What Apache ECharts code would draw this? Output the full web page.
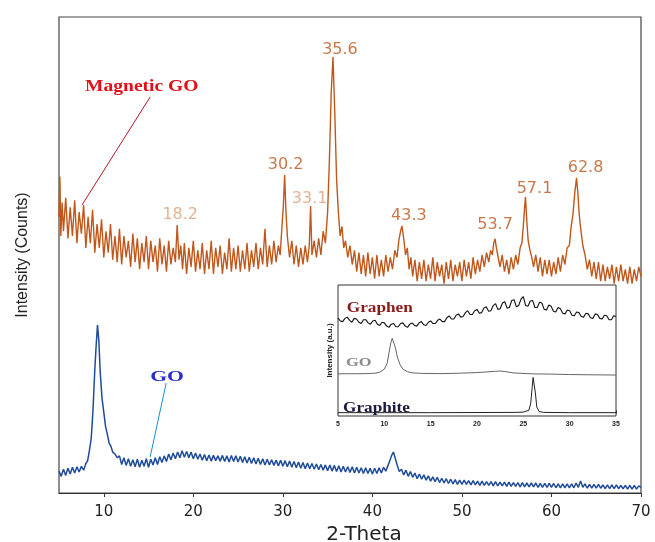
<!DOCTYPE html>
<html><head><meta charset="utf-8">
<script src="https://cdn.jsdelivr.net/npm/echarts@6/dist/echarts.min.js"></script>
<style>html,body{margin:0;padding:0;background:#fff}#c{width:655px;height:542px}</style>
</head><body><div id="c"></div>
<script>
// ---------------- DATA ----------------
const magneticGO = [
 [5.0,58],[5.1,66.5],[5.2,54],[5.35,61],[5.5,55],[5.75,62],[6.0,53.5],[6.25,60],[6.5,54],[6.75,61.5],
 [7.0,52.5],[7.25,59],[7.5,54.5],[7.75,60.5],[8.0,51.5],[8.25,58],[8.5,52.5],[8.75,59.5],[9.0,50.5],[9.25,56.5],
 [9.5,51.5],[9.75,57.5],[10.0,49.5],[10.25,55],[10.5,50.5],[10.75,56.5],[11.0,49],[11.25,54],[11.5,48.5],[11.75,55.5],
 [12.0,48],[12.25,54],[12.5,49.5],[12.75,53],[13.0,47.5],[13.25,54.5],[13.5,48.5],[13.75,53.5],[14.0,47],[14.25,52.5],
 [14.5,48.5],[14.75,54],[15.0,47],[15.25,53],[15.5,48.5],[15.75,52],[16.0,46.5],[16.25,53.5],[16.5,48],[16.75,52],
 [17.0,46.5],[17.25,53],[17.5,48],[17.75,51.5],[18.0,48.5],[18.2,56.3],[18.4,49],[18.6,52],[18.8,47],[19.0,52.5],
 [19.25,46],[19.5,51.5],[19.75,47.5],[20.0,53],[20.25,46.5],[20.5,51],[20.75,47],[21.0,52.5],[21.25,46],[21.5,51],
 [21.75,47],[22.0,53],[22.25,46],[22.5,51.5],[22.75,47.5],[23.0,52],[23.25,46],[23.5,50.5],[23.75,47],[24.0,53.5],
 [24.25,46.5],[24.5,51.5],[24.75,47],[25.0,52],[25.25,46.5],[25.5,51],[25.75,47],[26.0,52.5],[26.25,46.5],[26.5,51],
 [26.75,47.5],[27.0,52.5],[27.25,47],[27.5,51.5],[27.75,48],[28.0,55.5],[28.25,47.5],[28.5,52],[28.75,48],[29.0,53],
 [29.25,48.5],[29.5,52],[29.7,50],[29.9,56],[30.05,60],[30.2,66.8],[30.35,59],[30.5,54],[30.75,49.5],[31.0,53],
 [31.25,48],[31.5,52],[31.75,47.5],[32.0,51.5],[32.25,48],[32.5,52],[32.75,48.5],[32.95,52],[33.1,60.3],[33.25,50],
 [33.5,53],[33.75,49.5],[34.0,53.5],[34.25,50],[34.5,55],[34.75,52.5],[35.0,59],[35.2,70],[35.4,84],[35.6,91.6],
 [35.8,80],[36.0,66],[36.2,59],[36.4,54],[36.6,56],[36.8,51.5],[37.0,53],[37.25,49.5],[37.5,52],[37.75,48],
 [38.0,51],[38.25,46.5],[38.5,50.5],[38.75,46],[39.0,50],[39.25,45.5],[39.5,50.5],[39.75,46],[40.0,49.5],[40.25,45],
 [40.5,50],[40.75,45.5],[41.0,49],[41.25,45.5],[41.5,50],[41.75,46.5],[42.0,49.5],[42.25,47],[42.5,51],[42.75,49.5],
 [42.95,53],[43.15,55],[43.3,56.1],[43.5,53.5],[43.7,50],[43.9,51.5],[44.1,47],[44.3,49.5],[44.5,45.5],[44.75,49],
 [45.0,44.5],[45.25,48.5],[45.5,45],[45.75,49],[46.0,44.5],[46.25,48],[46.5,45],[46.75,49.5],[47.0,44.5],[47.25,48.5],
 [47.5,45.5],[47.75,48],[48.0,44],[48.25,48.5],[48.5,45],[48.75,49],[49.0,44.5],[49.25,48],[49.5,45.5],[49.75,48.5],
 [50.0,44.5],[50.25,49],[50.5,45.5],[50.75,48.5],[51.0,45],[51.25,49.5],[51.5,46],[51.75,49],[52.0,46.5],[52.25,50],
 [52.5,47.5],[52.75,50.5],[53.0,48.5],[53.2,51],[53.4,50],[53.55,52.5],[53.7,53.4],[53.85,51.5],[54.0,50],[54.25,47.5],
 [54.5,50],[54.75,46.5],[55.0,49],[55.25,46],[55.5,49.5],[55.75,47],[56.0,50],[56.25,48],[56.5,51.5],[56.7,52.5],
 [56.85,56],[57.0,60],[57.1,62.2],[57.25,57],[57.4,53],[57.6,51],[57.8,49.5],[58.0,47.5],[58.25,50],[58.5,46.5],
 [58.75,49.5],[59.0,45.5],[59.25,49],[59.5,46],[59.75,49],[60.0,45.5],[60.25,48.5],[60.5,46],[60.75,49.5],[61.0,46.5],
 [61.25,50],[61.5,48],[61.75,51.5],[62.0,52],[62.2,56],[62.4,58.5],[62.6,63],[62.8,66.2],[62.95,63],[63.1,58.5],
 [63.3,55],[63.5,52],[63.75,50],[64.0,47],[64.25,49],[64.5,45.5],[64.75,48.5],[65.0,45],[65.25,48.5],[65.5,44.5],
 [65.75,48],[66.0,44.5],[66.25,47.5],[66.5,45],[66.75,48],[67.0,44],[67.25,47.5],[67.5,44.5],[67.75,48],[68.0,44.5],
 [68.25,47],[68.5,44],[68.75,47.5],[69.0,44],[69.25,47],[69.5,44.5],[69.75,47.5],[70.0,45.5]
];
const grapheneOxide = [
 [5.0,4.6],[5.25,3.5],[5.5,5.0],[5.75,3.7],[6.0,5.2],[6.25,4.0],[6.5,5.4],[6.75,4.2],[7.0,5.5],[7.25,4.4],
 [7.5,5.6],[7.75,4.8],[8.0,6.2],[8.2,6.8],[8.4,9.0],[8.6,11.5],[8.8,17.5],[9.0,26],[9.15,31],[9.3,35.3],
 [9.45,32],[9.6,25.5],[9.8,20],[10.0,17],[10.2,14],[10.4,12.3],[10.6,10.5],[10.8,9.8],[11.0,8.6],[11.25,8.2],
 [11.5,7.4],[11.75,7.8],[12.0,6.0],[12.25,7.4],[12.5,5.8],[12.75,7.2],[13.0,5.6],[13.25,7.0],[13.5,5.5],[13.75,7.1],
 [14.0,5.4],[14.25,6.9],[14.5,5.6],[14.75,7.2],[15.0,5.4],[15.25,7.1],[15.5,5.9],[15.75,7.4],[16.0,6.0],[16.25,7.6],
 [16.5,6.4],[16.75,7.8],[17.0,6.6],[17.25,8.2],[17.5,7.0],[17.75,8.4],[18.0,7.2],[18.25,8.6],[18.5,7.4],[18.75,8.9],
 [19.0,7.5],[19.25,8.7],[19.5,7.4],[19.75,8.6],[20.0,7.2],[20.25,8.4],[20.5,7.1],[20.75,8.2],[21.0,6.9],[21.25,8.1],
 [21.5,6.8],[21.75,8.0],[22.0,6.7],[22.25,7.9],[22.5,6.8],[22.75,7.8],[23.0,6.7],[23.25,7.9],[23.5,6.6],[23.75,7.8],
 [24.0,6.5],[24.25,7.9],[24.5,6.6],[24.75,7.8],[25.0,6.5],[25.25,7.7],[25.5,6.4],[25.75,7.6],[26.0,6.3],[26.25,7.5],
 [26.5,6.2],[26.75,7.4],[27.0,6.1],[27.25,7.3],[27.5,6.0],[27.75,7.2],[28.0,5.9],[28.25,7.1],[28.5,5.9],[28.75,7.0],
 [29.0,5.8],[29.25,6.9],[29.5,5.7],[29.75,6.9],[30.0,5.6],[30.25,6.8],[30.5,5.5],[30.75,6.7],[31.0,5.4],[31.25,6.6],
 [31.5,5.3],[31.75,6.5],[32.0,5.2],[32.25,6.4],[32.5,5.1],[32.75,6.3],[33.0,5.1],[33.25,6.2],[33.5,5.0],[33.75,6.1],
 [34.0,4.9],[34.25,6.0],[34.5,4.8],[34.75,5.9],[35.0,4.7],[35.25,5.9],[35.5,4.6],[35.75,5.8],[36.0,4.5],[36.25,5.7],
 [36.5,4.4],[36.75,5.6],[37.0,4.4],[37.25,5.5],[37.5,4.3],[37.75,5.5],[38.0,4.2],[38.25,5.4],[38.5,4.2],[38.75,5.3],
 [39.0,4.1],[39.25,5.3],[39.5,4.1],[39.75,5.2],[40.0,4.0],[40.25,5.2],[40.5,4.1],[40.75,5.3],[41.0,4.2],[41.25,5.4],
 [41.5,4.6],[41.75,5.8],[41.95,6.8],[42.15,7.9],[42.35,8.6],[42.55,7.3],[42.75,6.0],[43.0,4.5],[43.25,5.0],[43.5,3.8],
 [43.75,4.8],[44.0,3.5],[44.25,4.5],[44.5,3.3],[44.75,4.2],[45.0,3.0],[45.25,4.0],[45.5,2.9],[45.75,3.8],[46.0,2.7],
 [46.25,3.6],[46.5,2.5],[46.75,3.4],[47.0,2.4],[47.25,3.3],[47.5,2.2],[47.75,3.1],[48.0,2.1],[48.25,3.0],[48.5,2.0],
 [48.75,2.9],[49.0,1.9],[49.25,2.8],[49.5,1.8],[49.75,2.7],[50.0,1.8],[50.25,2.7],[50.5,1.8],[50.75,2.6],[51.0,1.7],
 [51.25,2.6],[51.5,1.7],[51.75,2.5],[52.0,1.6],[52.25,2.5],[52.5,1.6],[52.75,2.4],[53.0,1.6],[53.25,2.4],[53.5,1.5],
 [53.75,2.4],[54.0,1.5],[54.25,2.3],[54.5,1.5],[54.75,2.3],[55.0,1.4],[55.25,2.3],[55.5,1.4],[55.75,2.2],[56.0,1.4],
 [56.25,2.2],[56.5,1.3],[56.75,2.2],[57.0,1.3],[57.25,2.1],[57.5,1.3],[57.75,2.1],[58.0,1.3],[58.25,2.1],[58.5,1.2],
 [58.75,2.0],[59.0,1.2],[59.25,2.0],[59.5,1.2],[59.75,2.0],[60.0,1.2],[60.25,2.0],[60.5,1.1],[60.75,1.9],[61.0,1.1],
 [61.25,1.9],[61.5,1.1],[61.75,1.9],[62.0,1.1],[62.25,1.9],[62.5,1.1],[62.75,2.1],[63.0,1.2],[63.25,2.5],[63.5,1.2],
 [63.75,1.9],[64.0,1.0],[64.25,1.8],[64.5,1.0],[64.75,1.8],[65.0,1.0],[65.25,1.8],[65.5,1.0],[65.75,1.7],[66.0,0.9],
 [66.25,1.7],[66.5,0.9],[66.75,1.7],[67.0,0.9],[67.25,1.7],[67.5,0.9],[67.75,1.6],[68.0,0.9],[68.25,1.6],[68.5,0.8],
 [68.75,1.6],[69.0,0.8],[69.25,1.6],[69.5,0.8],[69.75,1.5],[70.0,1.2]
];
const peakPositions = [18.2, 30.2, 33.1, 35.6, 43.3, 53.7, 57.1, 62.8];
const peakIntensities = [56.3, 66.8, 60.3, 91.6, 56.1, 53.4, 62.2, 66.2];
const xTickValues = [10, 20, 30, 40, 50, 60, 70];

const insetGraphene = [
 [5.0,74.3],[5.25,72],[5.5,71.5],[5.75,74],[6.0,75],[6.25,72.5],[6.5,71],[6.75,74],[7.0,73.5],[7.25,71],
 [7.5,70],[7.75,73],[8.0,73],[8.25,70.5],[8.5,69.5],[8.75,72],[9.0,72.5],[9.25,69.5],[9.5,68.5],[9.75,71],
 [10.0,70.5],[10.25,68],[10.5,67],[10.75,69.5],[11.0,70],[11.25,67.5],[11.5,67.5],[11.75,70],[12.0,70.5],[12.25,68],
 [12.5,67],[12.75,69.5],[13.0,70.5],[13.25,68.5],[13.5,68],[13.75,70.5],[14.0,71.5],[14.25,69],[14.5,68.5],[14.75,71],
 [15.0,72],[15.25,70],[15.5,70],[15.75,72.5],[16.0,73.5],[16.25,71.5],[16.5,71.5],[16.75,74.5],[17.0,76],[17.25,73.5],
 [17.5,73.5],[17.75,76.5],[18.0,77.5],[18.25,75],[18.5,75.5],[18.75,78.5],[19.0,80],[19.25,77],[19.5,77],[19.75,80],
 [20.0,81],[20.25,78],[20.5,78.5],[20.75,82],[21.0,83],[21.25,79.5],[21.5,80],[21.75,84],[22.0,85.5],[22.25,81],
 [22.5,81.5],[22.75,86],[23.0,87],[23.25,82],[23.5,82.5],[23.75,88],[24.0,88.5],[24.25,83],[24.5,84],[24.75,89],
 [25.0,91],[25.25,84],[25.5,83.5],[25.75,87.5],[26.0,88],[26.25,82.5],[26.5,82.5],[26.75,86.5],[27.0,86],[27.25,81],
 [27.5,80.5],[27.75,84.5],[28.0,83.5],[28.25,79.5],[28.5,79],[28.75,82.5],[29.0,81.5],[29.25,78],[29.5,77.5],[29.75,80.5],
 [30.0,80],[30.25,76.5],[30.5,76],[30.75,79],[31.0,78.5],[31.25,75.5],[31.5,75],[31.75,78],[32.0,77.5],[32.25,74.5],
 [32.5,74],[32.75,77.5],[33.0,77],[33.25,74],[33.5,73.5],[33.75,76.5],[34.0,76],[34.25,73],[34.5,73],[34.75,76],[35.0,75.5]
];
const insetGO = [
 [5,30.8],[6,30.9],[7,30.9],[8,31],[9,31.3],[9.5,32],[10,34.5],[10.3,39],[10.5,47],[10.7,55],[10.85,58.5],
 [11.0,57],[11.2,51],[11.4,44],[11.7,38],[12.0,34.5],[12.5,32.5],[13,31.6],[14,31.2],[16,31],[18,31.3],
 [20,31.8],[22,32.8],[22.5,33],[23,32.6],[24,31.5],[26,30.8],[28,30.6],[30,30.3],[32,30.1],[35,29.9]
];
const insetGraphite = [
 [5,0.6],[10,0.6],[15,0.6],[20,0.7],[24,0.8],[25,1.0],[25.6,2.5],[25.8,8],[25.95,20],[26.05,28],
 [26.15,27],[26.3,16],[26.45,5],[26.7,1.5],[27.2,0.8],[30,0.6],[35,0.6]
];

// ---------------- STYLE / LAYOUT ----------------
const peakLabelColors = ['#d9a07c','#b9561e','#d9a07c','#b9561e','#b9561e','#b9561e','#b9561e','#b9561e'];
const peakLabelOffsets = [[3,0],[1,0],[-1,2.5],[7,3],[7,0],[0,-3.5],[9,1.5],[9,0]];

const chart = echarts.init(document.getElementById('c'), null, {renderer:'canvas'});

const peakData = peakPositions.map((p, i) => ({
  value: [p, peakIntensities[i]],
  label: {color: peakLabelColors[i], offset: peakLabelOffsets[i]}
}));

const option = {
  animation: false,
  backgroundColor: '#fff',
  grid: [
    {left: 59, right: 14, top: 17, bottom: 49, show: true, borderColor: '#444', borderWidth: 1.2,
     containLabel: false, outerBoundsMode: 'none'},
    {left: 338, right: 39, top: 285, bottom: 126, show: true, borderColor: '#333', borderWidth: 1,
     backgroundColor: '#fff', z: 5, containLabel: false, outerBoundsMode: 'none'}
  ],
  xAxis: [
    {gridIndex: 0, type: 'value', min: 5, max: 70,
     axisLine: {lineStyle: {color: '#333', width: 1.2}},
     axisTick: {customValues: xTickValues, length: 4, lineStyle: {color: '#333'}},
     axisLabel: {customValues: xTickValues, fontFamily: 'DejaVu Sans', fontSize: 15, color: '#222', margin: 12},
     splitLine: {show: false},
     name: '2-Theta', nameLocation: 'middle', nameGap: 30,
     nameTextStyle: {fontFamily: 'DejaVu Sans', fontSize: 20, color: '#222', padding: [0, 0, 0, 28]}},
    {gridIndex: 1, type: 'value', min: 5, max: 35, interval: 5,
     axisLine: {lineStyle: {color: '#333', width: 1}},
     axisTick: {inside: true, length: 3, lineStyle: {color: '#333'}},
     minorTick: {show: true, splitNumber: 2, length: 2, lineStyle: {color: '#333'}},
     axisLabel: {fontFamily: 'Liberation Sans', fontSize: 7, fontWeight: 'bold', color: '#222', margin: 5},
     splitLine: {show: false}}
  ],
  yAxis: [
    {gridIndex: 0, type: 'value', min: 0, max: 100,
     axisLine: {show: false}, axisTick: {show: false}, axisLabel: {show: false}, splitLine: {show: false},
     name: 'Intensity (Counts)', nameLocation: 'middle', nameGap: 28,
     nameTextStyle: {fontFamily: 'Liberation Sans', fontSize: 16, color: '#222'}},
    {gridIndex: 1, type: 'value', min: -2, max: 100,
     axisLine: {show: false}, axisTick: {show: false}, axisLabel: {show: false}, splitLine: {show: false},
     name: 'Intensity (a.u.)', nameLocation: 'middle', nameGap: 4,
     nameTextStyle: {fontFamily: 'Liberation Sans', fontSize: 8, fontWeight: 'bold', color: '#222'}}
  ],
  series: [
    {name: 'Magnetic GO', type: 'line', xAxisIndex: 0, yAxisIndex: 0, data: magneticGO,
     showSymbol: false, lineStyle: {color: '#c0581c', width: 1.4}, z: 3,
     markLine: {silent: true, symbol: 'none', label: {show: false},
       lineStyle: {color: '#b01828', width: 1, type: 'solid'},
       data: [[{coord: [15.18, 83.2]}, {coord: [7.57, 60.5]}]]}},
    {name: 'GO', type: 'line', xAxisIndex: 0, yAxisIndex: 0, data: grapheneOxide,
     showSymbol: false, lineStyle: {color: '#1f4b99', width: 1.5}, z: 3,
     markLine: {silent: true, symbol: 'none', label: {show: false},
       lineStyle: {color: '#1a90d0', width: 1, type: 'solid'},
       data: [[{coord: [16.97, 23.1]}, {coord: [15.18, 7.56]}]]}},
    {name: 'peaks', type: 'scatter', xAxisIndex: 0, yAxisIndex: 0, data: peakData,
     symbolSize: 0, z: 4,
     label: {show: true, position: 'top', distance: 2, fontFamily: 'DejaVu Sans', fontSize: 16,
       formatter: p => p.value[0].toFixed(1)}},
    {name: 'Graphen', type: 'line', xAxisIndex: 1, yAxisIndex: 1, data: insetGraphene,
     showSymbol: false, lineStyle: {color: '#111', width: 1.1}, z: 6},
    {name: 'GO inset', type: 'line', xAxisIndex: 1, yAxisIndex: 1, data: insetGO,
     showSymbol: false, lineStyle: {color: '#666', width: 1}, z: 6},
    {name: 'Graphite', type: 'line', xAxisIndex: 1, yAxisIndex: 1, data: insetGraphite,
     showSymbol: false, lineStyle: {color: '#222', width: 1}, z: 6}
  ]
};
chart.setOption(option);

// text annotations anchored in data coordinates
const annotations = [
  {text: 'Magnetic GO', grid: 0, at: [7.91, 85.3], color: '#e01018', size: 17, sx: 1.15},
  {text: 'GO', grid: 0, at: [15.18, 24.4], color: '#2b2fc8', size: 15, sx: 1.45},
  {text: 'Graphen', grid: 1, at: [5.94, 81.9], color: '#8b1a1a', size: 15, sx: 1.15},
  {text: 'GO', grid: 1, at: [5.86, 39.5], color: '#8c8c8c', size: 12, sx: 1.37},
  {text: 'Graphite', grid: 1, at: [5.54, 4.0], color: '#1a1a40', size: 14, sx: 1.23}
];
chart.setOption({
  graphic: annotations.map(a => {
    const p = chart.convertToPixel({gridIndex: a.grid}, a.at);
    return {type: 'text', x: p[0], y: p[1], scaleX: a.sx, z: 100,
      style: {text: a.text, fill: a.color, font: 'bold ' + a.size + 'px "Liberation Serif"',
        textAlign: 'left', textVerticalAlign: 'middle', align: 'left', verticalAlign: 'middle'}};
  })
});
</script></body></html>
